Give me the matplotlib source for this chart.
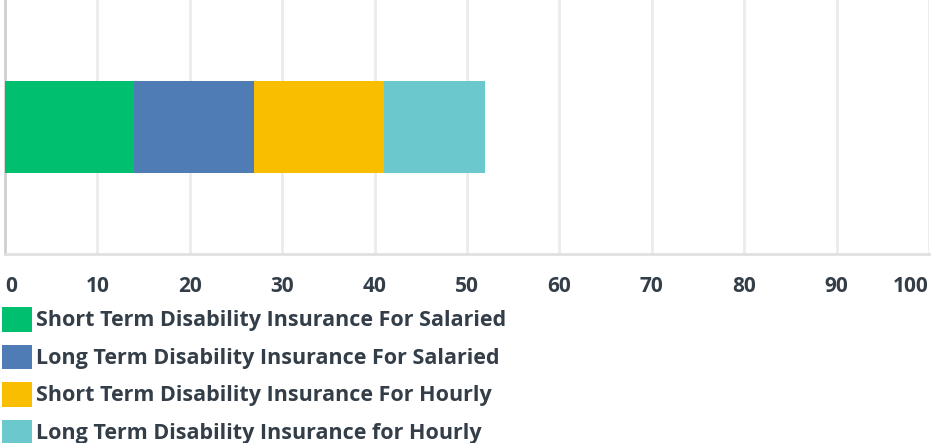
import matplotlib.pyplot as plt

# -----------------------------
# DATA
# -----------------------------
SERIES = [
    "Short Term Disability Insurance For Salaried",
    "Long Term Disability Insurance For Salaried",
    "Short Term Disability Insurance For Hourly",
    "Long Term Disability Insurance for Hourly",
]
VALUES = [14, 13, 14, 11]
COLORS = ["#00BF6F", "#507CB6", "#F9BE00", "#6BC8CD"]
XTICKS = [0, 10, 20, 30, 40, 50, 60, 70, 80, 90, 100]

TEXT_COLOR = "#333E48"
FONT = ["Open Sans", "DejaVu Sans"]

W, H = 932, 443
fig = plt.figure(figsize=(W / 100, H / 100), dpi=100)
ax = fig.add_axes([5 / W, 1 - 254 / H, 924 / W, 254 / H])

left = 0
handles = []
for name, val, col in zip(SERIES, VALUES, COLORS):
    b = ax.barh(0, val, left=left, height=0.365, color=col, label=name, zorder=3)
    handles.append(b)
    left += val

ax.set_xlim(0, 100)
ax.set_ylim(-0.5, 0.5)
ax.set_yticks([])
ax.set_xticks(XTICKS)
ax.set_xticklabels([str(t) for t in XTICKS])
ax.grid(axis="x", color="#EBEBEB", linewidth=2, zorder=0)
ax.tick_params(axis="x", length=0, pad=16, labelsize=15, labelcolor=TEXT_COLOR)
for lbl in ax.get_xticklabels():
    lbl.set_fontfamily(FONT)
    lbl.set_fontweight("bold")
labels = ax.get_xticklabels()
labels[0].set_horizontalalignment("left")
labels[-1].set_horizontalalignment("right")

for side in ["top", "right"]:
    ax.spines[side].set_visible(False)
ax.spines["left"].set_color("#D0D0D0")
ax.spines["left"].set_linewidth(2)
ax.spines["bottom"].set_color("#E0E0E0")
ax.spines["bottom"].set_linewidth(2)

leg = fig.legend(
    handles=handles,
    labels=SERIES,
    loc="upper left",
    bbox_to_anchor=(2 / W, 1 - 307 / H),
    frameon=False,
    borderpad=0,
    borderaxespad=0,
    handlelength=1.38,
    handleheight=1.38,
    handletextpad=0.22,
    labelspacing=0.6,
    prop={"family": FONT, "weight": "bold", "size": 15.5},
)
for t in leg.get_texts():
    t.set_color(TEXT_COLOR)

fig.savefig("out.png", dpi=100)
